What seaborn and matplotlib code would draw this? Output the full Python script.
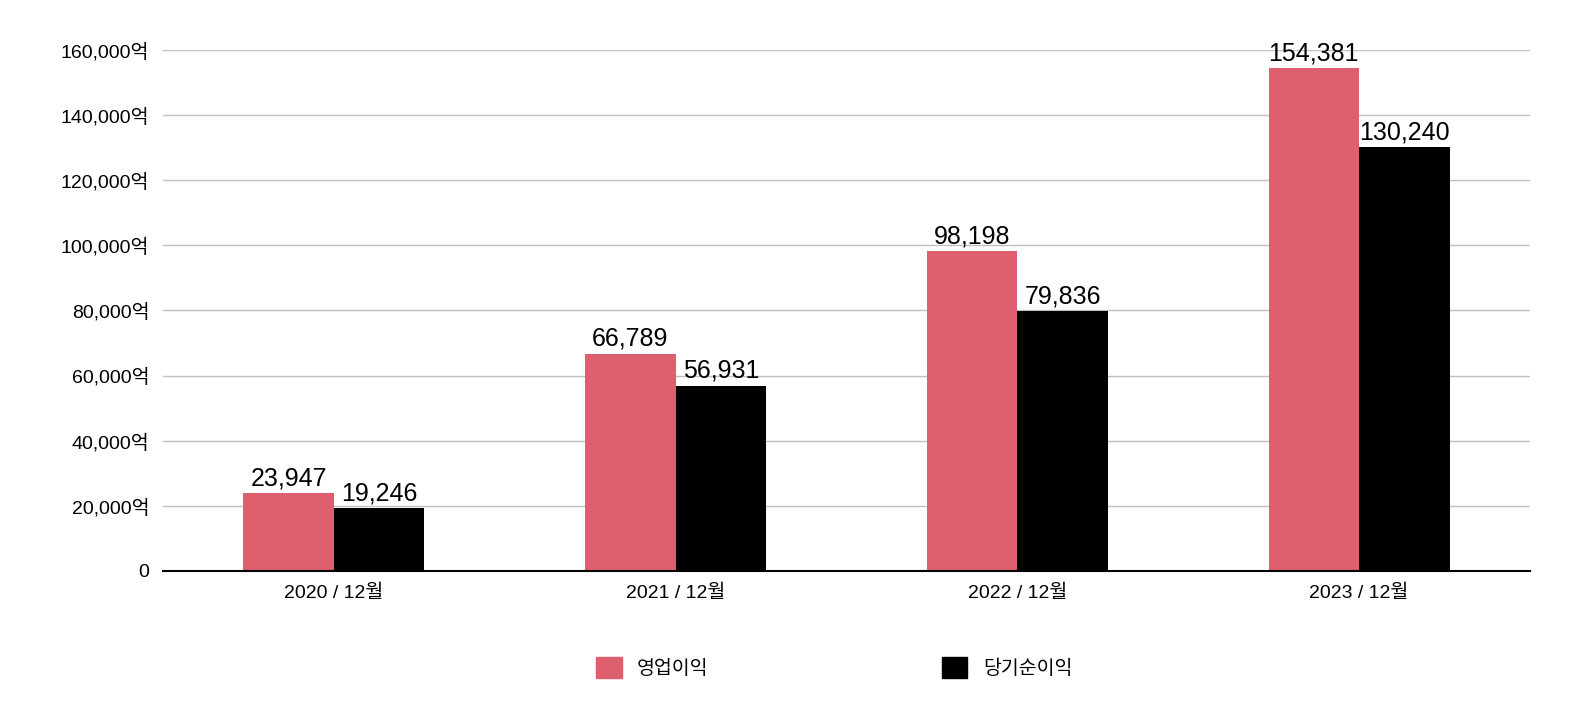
import matplotlib
matplotlib.use("Agg")
import matplotlib.pyplot as plt
import matplotlib.patches as mpatches
import seaborn as sns
import pandas as pd

plt.rcParams["font.family"] = ["Liberation Sans", "Noto Sans CJK KR", "Noto Sans CJK JP",
                               "Noto Sans CJK SC", "DejaVu Sans"]

periods = ["2020 / 12월", "2021 / 12월", "2022 / 12월", "2023 / 12월"]
series = ["영업이익", "당기순이익"]
op_income = [23947, 66789, 98198, 154381]
net_income = [19246, 56931, 79836, 130240]
colors = ["#de5f6e", "#000000"]

df = pd.DataFrame({
    "period": periods * 2,
    "series": [series[0]] * 4 + [series[1]] * 4,
    "value": op_income + net_income,
})

fig = plt.figure(figsize=(15.74, 7.14), dpi=100)
ax = fig.add_axes([0.1036, 0.2003, 0.8684, 0.7297])
sns.barplot(data=df, x="period", y="value", hue="series", palette=colors,
            width=0.53, gap=0, saturation=1, legend=False, ax=ax)

ax.set_ylim(0, 160000)
ax.set_xlim(-0.5, 3.5)
yt = list(range(0, 160001, 20000))
ax.set_yticks(yt)
ax.set_yticklabels(["0"] + [f"{v:,}억" for v in yt[1:]], fontsize=14)
ax.tick_params(axis="x", labelsize=14, length=0, pad=10)
ax.tick_params(axis="y", length=0, pad=10)
ax.yaxis.grid(True, color="#c0c0c0", linewidth=1)
ax.set_axisbelow(True)
for s in ["top", "right", "left"]:
    ax.spines[s].set_visible(False)
ax.spines["bottom"].set_linewidth(1.5)
ax.set_xlabel("")
ax.set_ylabel("")

for cont in ax.containers:
    ax.bar_label(cont, labels=[f"{int(v.get_height()):,}" for v in cont],
                 fontsize=18, padding=2, clip_on=False)

handles = [mpatches.Patch(color=c, label=s) for c, s in zip(colors, series)]
fig.legend(handles=handles, loc="center", bbox_to_anchor=(0.53, 0.065), ncol=2,
           frameon=False, fontsize=14, handlelength=1.3, handleheight=1.3,
           columnspacing=12)

fig.savefig("out.png", dpi=100)
